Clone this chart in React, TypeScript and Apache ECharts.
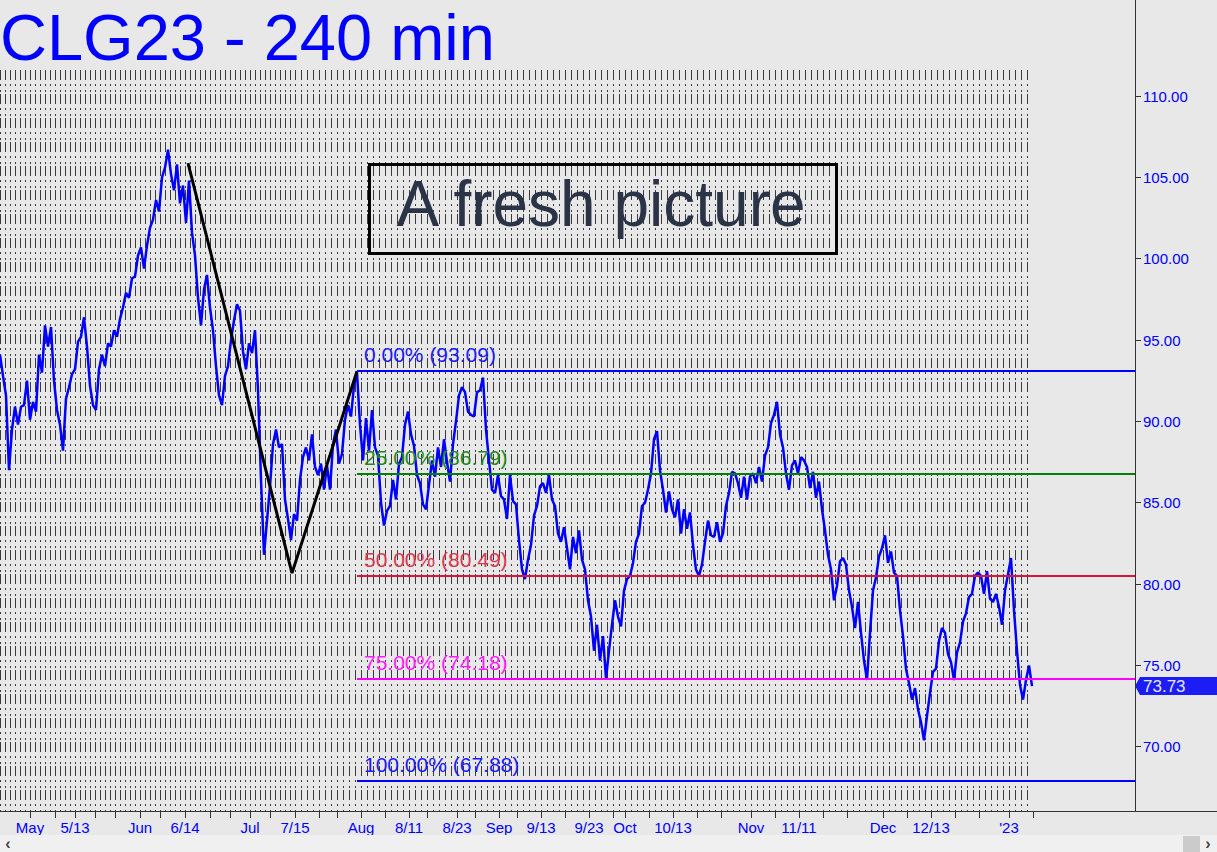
import React, { useEffect, useRef } from 'react';
import * as echarts from 'echarts';

// ---- time axis: 240-min bars grouped by session ----
const FIRST_SESSION = '2022-04-22';
const LAST_SESSION = '2023-01-31';
const NEXT_SESSION = '2023-02-01';
const CLOSED_SESSIONS = ['2022-07-04', '2022-09-05', '2022-12-26', '2023-01-02'];
const SIX_BARS_FROM = '2022-07-15';
const LAST_DATA_SESSION = '2023-01-06';

const tickDates = [
  '2022-05-02', '2022-05-09', '2022-05-13', '2022-05-19', '2022-05-25', '2022-06-01', '2022-06-07',
  '2022-06-14', '2022-06-21', '2022-06-27', '2022-07-01', '2022-07-08', '2022-07-15', '2022-07-21',
  '2022-07-26', '2022-08-01', '2022-08-05', '2022-08-11', '2022-08-16', '2022-08-23', '2022-08-26',
  '2022-09-01', '2022-09-07', '2022-09-13', '2022-09-19', '2022-09-23', '2022-09-29', '2022-10-03',
  '2022-10-07', '2022-10-13', '2022-10-19', '2022-10-25', '2022-11-01', '2022-11-07', '2022-11-11',
  '2022-11-17', '2022-11-23', '2022-12-01', '2022-12-07', '2022-12-13', '2022-12-19', '2022-12-23',
  '2023-01-03', '2023-01-09',
];
const labelDates = [
  '2022-05-02', '2022-05-13', '2022-06-01', '2022-06-14', '2022-07-01', '2022-07-15', '2022-08-01',
  '2022-08-11', '2022-08-23', '2022-09-01', '2022-09-13', '2022-09-23', '2022-10-03', '2022-10-13',
  '2022-11-01', '2022-11-11', '2022-12-01', '2022-12-13', '2023-01-03',
];
const labelTexts = [
  'May', '5/13', 'Jun', '6/14', 'Jul', '7/15', 'Aug', '8/11', '8/23', 'Sep', '9/13', '9/23', 'Oct',
  '10/13', 'Nov', '11/11', 'Dec', '12/13', "'23",
];

// ---- price: sampled every 3rd 240-min bar ----
const SAMPLE_STEP = 3;
const prices = [
  94.1, 92.8, 91.6, 87.0, 89.5, 90.9, 89.8, 90.9, 91.0, 92.5,
  90.1, 91.2, 90.6, 94.1, 93.0, 95.9, 94.6, 95.8, 92.5, 90.7,
  89.8, 88.2, 91.4, 92.1, 92.9, 93.2, 94.9, 95.2, 96.4, 94.6,
  92.2, 91.0, 90.7, 93.2, 94.1, 93.4, 94.8, 94.6, 95.6, 95.2,
  96.3, 97.0, 97.9, 97.6, 98.8, 98.9, 100.2, 100.7, 99.4, 100.8,
  101.9, 102.4, 103.6, 102.9, 105.0, 105.6, 106.7, 105.2, 104.2, 105.8,
  103.4, 104.5, 102.2, 104.8, 101.6, 100.2, 97.6, 95.9, 98.1, 99.0,
  97.0, 95.6, 93.4, 91.6, 91.0, 92.8, 93.4, 95.0, 96.2, 97.2,
  96.8, 94.3, 93.2, 94.8, 94.2, 95.6, 91.9, 86.4, 81.8, 83.9,
  86.0, 88.6, 89.5, 88.4, 88.6, 85.2, 84.0, 82.7, 84.3, 83.9,
  86.4, 87.8, 88.4, 87.6, 89.2, 87.2, 86.7, 87.4, 85.8, 87.3,
  85.8, 88.6, 89.5, 87.4, 88.0, 90.1, 91.0, 90.3, 92.2, 93.0,
  89.8, 87.6, 90.2, 88.2, 90.7, 88.4, 87.9, 85.0, 83.6, 84.5,
  84.8, 86.4, 85.2, 87.4, 87.8, 89.8, 90.6, 89.2, 88.5, 86.7,
  86.2, 84.9, 84.6, 86.1, 87.6, 86.6, 88.4, 87.2, 88.9, 87.5,
  86.3, 88.6, 90.0, 91.6, 92.1, 91.8, 90.6, 90.4, 90.3, 91.8,
  91.9, 92.7, 89.5, 87.6, 85.8, 85.6, 86.7, 85.4, 85.2, 84.0,
  86.7, 85.1, 84.9, 82.7, 80.9, 80.3, 81.5, 82.4, 84.2, 84.8,
  86.0, 86.2, 85.6, 86.7, 85.2, 84.8, 83.1, 82.6, 83.5, 82.2,
  80.9, 82.9, 81.9, 83.3, 81.5, 80.9, 79.0, 78.0, 75.9, 77.5,
  75.3, 76.8, 74.2, 75.9, 77.5, 79.0, 78.0, 77.4, 79.6, 80.3,
  80.5, 81.3, 82.6, 83.1, 84.8, 85.0, 85.8, 86.8, 88.9, 89.4,
  87.0, 85.8, 84.4, 85.7, 84.6, 84.1, 85.2, 83.1, 84.6, 83.4,
  84.4, 82.4, 80.9, 80.5, 81.2, 82.6, 83.9, 83.0, 82.9, 83.8,
  82.6, 83.1, 84.8, 85.6, 86.9, 86.8, 86.2, 85.3, 86.6, 85.2,
  86.6, 86.8, 86.2, 87.2, 86.3, 87.9, 88.4, 89.9, 90.4, 91.2,
  89.2, 88.4, 86.8, 85.8, 87.3, 87.6, 86.8, 87.8, 87.6, 87.2,
  85.9, 86.9, 85.3, 86.3, 84.6, 83.3, 81.8, 80.9, 79.0, 79.9,
  81.4, 81.6, 81.2, 79.6, 78.6, 77.3, 78.9, 77.0, 75.3, 74.1,
  77.0, 79.6, 80.4, 81.7, 82.2, 83.0, 81.3, 82.0, 80.7, 80.5,
  78.4, 76.8, 74.8, 73.9, 72.9, 73.6, 72.3, 71.5, 70.4, 71.9,
  73.3, 74.6, 74.8, 76.5, 77.3, 77.0, 75.7, 75.2, 74.1, 75.8,
  76.4, 77.7, 78.2, 79.2, 79.4, 80.5, 80.7, 80.5, 79.4, 80.8,
  79.1, 78.9, 79.4, 78.6, 77.5, 79.6, 80.6, 81.6, 78.4, 75.9,
  73.8, 72.9, 74.1, 75.0, 73.73,
];
const LAST_PRICE = 73.73;

// ---- ABC swing ----
const swingDates = ['2022-06-14', '2022-07-14', '2022-07-29'];
const swingBars = [3, 2, 2];
const swingValues = [105.88, 80.67, 93.09];

// ---- projection levels ----
const fibPct = ['0.00%', '25.00%', '50.00%', '75.00%', '100.00%'];
const fibValues = [93.09, 86.79, 80.49, 74.18, 67.88];
const fibLineColors = ['#0000ff', '#008000', '#dc143c', '#ff00ff', '#0000ff'];
const fibTextColors = ['#1a1aff', '#1f8a1f', '#d63a55', '#ff1aff', '#1a1aff'];

const yTicks = [70, 75, 80, 85, 90, 95, 100, 105, 110];
const Y_MIN = 66.05;
const Y_MAX = 111.6;

const FONT = '"Liberation Sans", Arial, Helvetica, sans-serif';

function buildSessions(): string[] {
  const out: string[] = [];
  const closed = new Set(CLOSED_SESSIONS);
  const d = new Date(FIRST_SESSION + 'T00:00:00Z');
  const end = new Date(LAST_SESSION + 'T00:00:00Z');
  while (d <= end) {
    const wd = d.getUTCDay();
    const iso = d.toISOString().slice(0, 10);
    if (wd !== 0 && wd !== 6 && !closed.has(iso)) out.push(iso);
    d.setUTCDate(d.getUTCDate() + 1);
  }
  return out;
}

export default function App() {
  const ref = useRef<HTMLDivElement>(null);

  useEffect(() => {
    if (!ref.current) return;
    const sessions = buildSessions();
    const categories: string[] = [];
    sessions.forEach((s) => {
      const bars = s < SIX_BARS_FROM ? 5 : 6;
      for (let b = 0; b < bars; b++) categories.push(`${s}|${b}`);
    });
    categories.push(`${NEXT_SESSION}|0`);
    const N = categories.length;

    const tickSet = new Set(tickDates.map((d) => `${d}|0`));
    const labelMap = new Map<string, string>();
    labelDates.forEach((d, i) => labelMap.set(`${d}|0`, labelTexts[i]));
    const gridSet = new Set(sessions.filter((s) => s <= LAST_DATA_SESSION).map((s) => `${s}|0`));

    const priceData: (number | null)[] = new Array(N).fill(null);
    prices.forEach((v, i) => {
      priceData[i * SAMPLE_STEP] = v;
    });

    const idx = new Map<string, number>();
    categories.forEach((c, i) => idx.set(c, i));
    const swingData: (number | null)[] = new Array(N).fill(null);
    swingDates.forEach((d, i) => {
      const k = idx.get(`${d}|${swingBars[i]}`);
      if (k !== undefined) swingData[k] = swingValues[i];
    });
    const startCat = `${swingDates[2]}|${swingBars[2]}`;
    const endCat = categories[N - 1];

    const fibLines = fibValues.map((v, i) => [
      {
        coord: [startCat, v],
        lineStyle: { color: fibLineColors[i], width: 2, type: 'solid' },
        label: {
          show: true,
          position: 'insideStartTop',
          distance: [7, 6],
          formatter: `${fibPct[i]} (${v.toFixed(2)})`,
          color: fibTextColors[i],
          fontSize: 21,
          fontFamily: FONT,
        },
      },
      { coord: [endCat, v] },
    ]);

    const chart = echarts.init(ref.current, undefined, { renderer: 'svg' });

    const staticGraphics: any[] = [
      { id: 'band', type: 'rect', shape: { x: 0, y: 835, width: 1217, height: 17 }, style: { fill: '#f0f0f0' }, z: 1 },
      { id: 'thumb', type: 'rect', shape: { x: 1183, y: 836, width: 17, height: 16 }, style: { fill: '#cbcbcb' }, z: 2 },
      { id: 'larr', type: 'text', style: { text: '‹', x: 8, y: 843, fill: '#444', font: `bold 16px ${FONT}`, align: 'center', verticalAlign: 'middle', textAlign: 'center', textVerticalAlign: 'middle' }, z: 2 },
      { id: 'rarr', type: 'text', style: { text: '›', x: 1208, y: 843, fill: '#444', font: `bold 16px ${FONT}`, align: 'center', verticalAlign: 'middle', textAlign: 'center', textVerticalAlign: 'middle' }, z: 2 },
      { id: 'yext', type: 'line', shape: { x1: 1135.5, y1: 0, x2: 1135.5, y2: 70 }, style: { stroke: '#333', lineWidth: 1 }, z: 2 },
      { id: 'xext', type: 'line', shape: { x1: 1135, y1: 811.5, x2: 1217, y2: 811.5 }, style: { stroke: '#333', lineWidth: 1 }, z: 2 },
      { id: 'title', type: 'text', style: { text: 'CLG23 - 240 min', x: 0, y: 37, fill: '#0000ff', font: `65px ${FONT}`, align: 'left', verticalAlign: 'middle', textAlign: 'left', textVerticalAlign: 'middle' }, z: 10 },
      { id: 'note', type: 'rect', shape: { x: 369.5, y: 164.5, width: 467, height: 89 }, style: { fill: 'none', stroke: '#000', lineWidth: 3 }, z: 10 },
      { id: 'notetext', type: 'text', style: { text: 'A fresh picture', x: 601, y: 204, fill: '#2b3447', font: `64px ${FONT}`, align: 'center', verticalAlign: 'middle', textAlign: 'center', textVerticalAlign: 'middle' }, z: 10 },
    ];

    chart.setOption({
      animation: false,
      backgroundColor: '#e8e8e8',
      grid: { left: 0, right: 82, top: 70, bottom: 41 },
      xAxis: {
        type: 'category',
        data: categories,
        boundaryGap: false,
        axisLine: { show: true, lineStyle: { color: '#333', width: 1 } },
        axisTick: {
          show: true,
          interval: (_i: number, v: string) => tickSet.has(v),
          length: 7,
          lineStyle: { color: '#333', width: 1 },
        },
        axisLabel: {
          show: true,
          interval: (_i: number, v: string) => labelMap.has(v),
          formatter: (v: string) => labelMap.get(v) || '',
          color: '#0000ff',
          fontSize: 15,
          fontFamily: FONT,
          margin: 9,
        },
        splitLine: {
          show: true,
          interval: (_i: number, v: string) => gridSet.has(v),
          lineStyle: { color: '#3a3a3a', width: 1, type: [10, 4, 2, 4, 2, 2] },
        },
      },
      yAxis: {
        type: 'value',
        position: 'right',
        min: Y_MIN,
        max: Y_MAX,
        axisLine: { show: true, lineStyle: { color: '#333', width: 1 } },
        axisTick: { show: true, length: 6, customValues: yTicks, lineStyle: { color: '#333' } },
        axisLabel: {
          show: true,
          customValues: yTicks,
          formatter: (v: number) => v.toFixed(2),
          color: '#0000ff',
          fontSize: 15,
          fontFamily: FONT,
          margin: 8,
        },
        splitLine: { show: false },
      },
      series: [
        {
          name: 'levels',
          type: 'line',
          data: new Array(N).fill(null),
          symbol: 'none',
          silent: true,
          z: 2,
          markLine: { symbol: ['none', 'none'], silent: true, animation: false, data: fibLines },
        },
        {
          name: 'CLG23',
          type: 'line',
          data: priceData,
          connectNulls: true,
          symbol: 'none',
          showSymbol: false,
          lineStyle: { color: '#0000ff', width: 2.5 },
          z: 3,
        },
        {
          name: 'swing',
          type: 'line',
          data: swingData,
          connectNulls: true,
          symbol: 'none',
          showSymbol: false,
          lineStyle: { color: '#000000', width: 3 },
          z: 4,
        },
      ],
      graphic: staticGraphics,
    });

    const ty = chart.convertToPixel({ yAxisIndex: 0 }, LAST_PRICE) as number;
    const tag = {
      id: 'tag',
      type: 'group',
      z: 20,
      children: [
        {
          type: 'polygon',
          shape: { points: [[1135, ty], [1140, ty - 9], [1217, ty - 9], [1217, ty + 9], [1140, ty + 9]] },
          style: { fill: '#1c1cf5' },
        },
        {
          type: 'text',
          style: { text: LAST_PRICE.toFixed(2), x: 1143, y: ty, fill: '#e6e6ff', font: `17px ${FONT}`, align: 'left', verticalAlign: 'middle', textAlign: 'left', textVerticalAlign: 'middle' },
        },
      ],
    };
    chart.setOption({ graphic: [...staticGraphics, tag] });

    return () => chart.dispose();
  }, []);

  return (
    <div
      ref={ref}
      style={{ position: 'absolute', left: 0, top: 0, width: 1217, height: 852, background: '#e8e8e8' }}
    />
  );
}
